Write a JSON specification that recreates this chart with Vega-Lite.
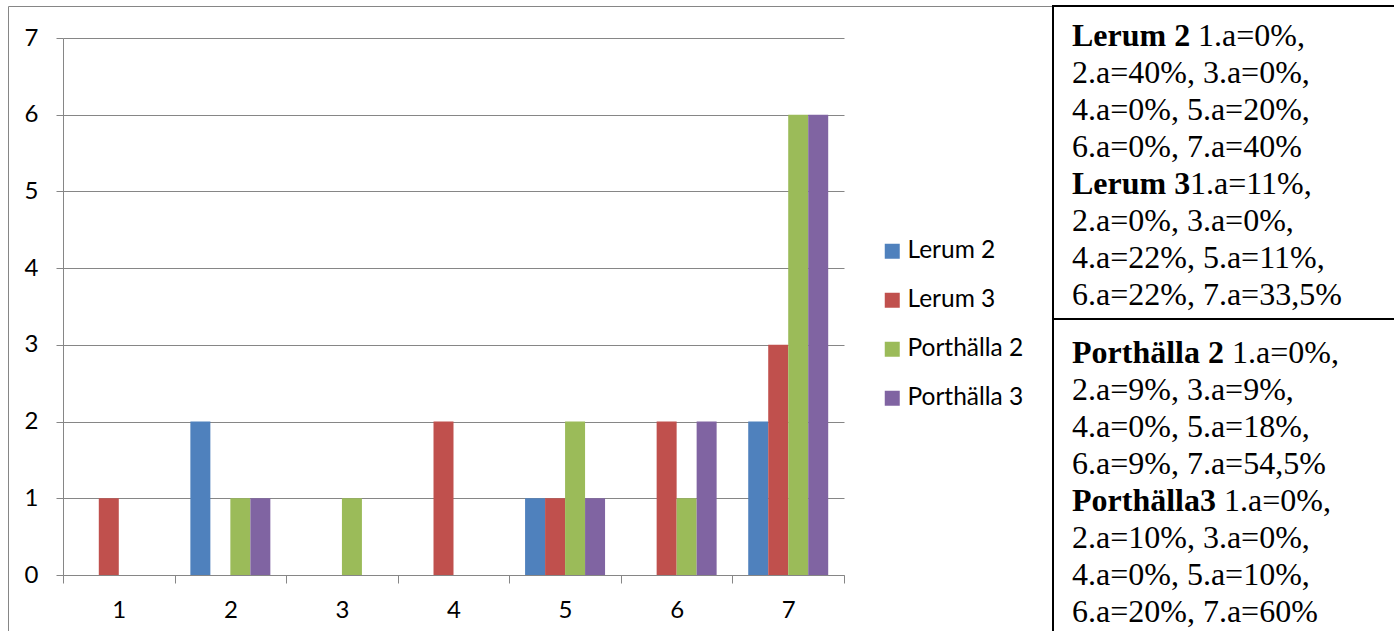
{
  "$schema": "https://vega.github.io/schema/vega-lite/v6.json",
  "background": "white",
  "padding": {"left": 7, "top": 5, "right": 0, "bottom": 0},
  "spacing": 0,
  "bounds": "flush",
  "datasets": {
    "bars": [
      {"group": "1", "series": "Lerum 2", "value": 0},
      {"group": "1", "series": "Lerum 3", "value": 1},
      {"group": "1", "series": "Porthälla 2", "value": 0},
      {"group": "1", "series": "Porthälla 3", "value": 0},
      {"group": "2", "series": "Lerum 2", "value": 2},
      {"group": "2", "series": "Lerum 3", "value": 0},
      {"group": "2", "series": "Porthälla 2", "value": 1},
      {"group": "2", "series": "Porthälla 3", "value": 1},
      {"group": "3", "series": "Lerum 2", "value": 0},
      {"group": "3", "series": "Lerum 3", "value": 0},
      {"group": "3", "series": "Porthälla 2", "value": 1},
      {"group": "3", "series": "Porthälla 3", "value": 0},
      {"group": "4", "series": "Lerum 2", "value": 0},
      {"group": "4", "series": "Lerum 3", "value": 2},
      {"group": "4", "series": "Porthälla 2", "value": 0},
      {"group": "4", "series": "Porthälla 3", "value": 0},
      {"group": "5", "series": "Lerum 2", "value": 1},
      {"group": "5", "series": "Lerum 3", "value": 1},
      {"group": "5", "series": "Porthälla 2", "value": 2},
      {"group": "5", "series": "Porthälla 3", "value": 1},
      {"group": "6", "series": "Lerum 2", "value": 0},
      {"group": "6", "series": "Lerum 3", "value": 2},
      {"group": "6", "series": "Porthälla 2", "value": 1},
      {"group": "6", "series": "Porthälla 3", "value": 2},
      {"group": "7", "series": "Lerum 2", "value": 2},
      {"group": "7", "series": "Lerum 3", "value": 3},
      {"group": "7", "series": "Porthälla 2", "value": 6},
      {"group": "7", "series": "Porthälla 3", "value": 6}
    ],
    "txt": [
      {"box": 1, "line": 1, "kind": "head", "grp": "", "text": "Lerum 2"},
      {"box": 1, "line": 1, "kind": "rest", "grp": "L2", "text": "1.a=0%,"},
      {"box": 1, "line": 2, "kind": "body", "grp": "", "text": "2.a=40%, 3.a=0%,"},
      {"box": 1, "line": 3, "kind": "body", "grp": "", "text": "4.a=0%, 5.a=20%,"},
      {"box": 1, "line": 4, "kind": "body", "grp": "", "text": "6.a=0%, 7.a=40%"},
      {"box": 1, "line": 5, "kind": "head", "grp": "", "text": "Lerum 3"},
      {"box": 1, "line": 5, "kind": "rest", "grp": "L3", "text": "1.a=11%,"},
      {"box": 1, "line": 6, "kind": "body", "grp": "", "text": "2.a=0%, 3.a=0%,"},
      {"box": 1, "line": 7, "kind": "body", "grp": "", "text": "4.a=22%, 5.a=11%,"},
      {"box": 1, "line": 8, "kind": "body", "grp": "", "text": "6.a=22%, 7.a=33,5%"},
      {"box": 2, "line": 1, "kind": "head", "grp": "", "text": "Porthälla 2"},
      {"box": 2, "line": 1, "kind": "rest", "grp": "P2", "text": "1.a=0%,"},
      {"box": 2, "line": 2, "kind": "body", "grp": "", "text": "2.a=9%, 3.a=9%,"},
      {"box": 2, "line": 3, "kind": "body", "grp": "", "text": "4.a=0%, 5.a=18%,"},
      {"box": 2, "line": 4, "kind": "body", "grp": "", "text": "6.a=9%, 7.a=54,5%"},
      {"box": 2, "line": 5, "kind": "head", "grp": "", "text": "Porthälla3"},
      {"box": 2, "line": 5, "kind": "rest", "grp": "P3", "text": "1.a=0%,"},
      {"box": 2, "line": 6, "kind": "body", "grp": "", "text": "2.a=10%, 3.a=0%,"},
      {"box": 2, "line": 7, "kind": "body", "grp": "", "text": "4.a=0%, 5.a=10%,"},
      {"box": 2, "line": 8, "kind": "body", "grp": "", "text": "6.a=20%, 7.a=60%"}
    ]
  },
  "hconcat": [
    {
      "width": 1045,
      "height": 640,
      "view": {"stroke": "#868686", "strokeWidth": 1},
      "data": {"name": "bars"},
      "mark": {"type": "bar"},
      "encoding": {
        "x": {
          "field": "group", "type": "ordinal",
          "scale": {"range": [55, 836], "paddingInner": 0, "paddingOuter": 0},
          "axis": {
            "title": null, "offset": -71, "tickBand": "extent", "labelAngle": 0,
            "domainColor": "#868686", "tickColor": "#868686", "tickSize": 8,
            "labelFont": "Lato", "labelFontSize": 24, "labelColor": "black",
            "labelPadding": 15, "grid": false
          }
        },
        "xOffset": {
          "field": "series", "type": "nominal",
          "scale": {"paddingInner": 0, "paddingOuter": 0.79}
        },
        "y": {
          "field": "value", "type": "quantitative",
          "scale": {"domain": [0, 7], "range": [569, 32], "nice": false},
          "axis": {
            "title": null, "offset": -55, "values": [0, 1, 2, 3, 4, 5, 6, 7],
            "grid": true, "gridColor": "#868686", "gridWidth": 1,
            "domainColor": "#868686", "tickColor": "#868686", "tickSize": 7,
            "labelFont": "Lato", "labelFontSize": 24, "labelColor": "black",
            "labelPadding": 18
          }
        },
        "color": {
          "field": "series", "type": "nominal",
          "scale": {"domain": ["Lerum 2", "Lerum 3", "Porthälla 2", "Porthälla 3"],
                    "range": ["#4F81BD", "#C0504D", "#9BBB59", "#8064A2"]},
          "legend": {
            "title": null, "orient": "none", "legendX": 872, "legendY": 233,
            "symbolType": "square", "symbolSize": 225, "symbolStrokeWidth": 0,
            "labelFont": "Lato", "labelFontSize": 24.5, "labelColor": "black",
            "labelOffset": 3, "rowPadding": 24
          }
        }
      }
    },
    {
      "spacing": 0,
      "bounds": "flush",
      "vconcat": [
        {
          "width": 350,
          "height": 313,
          "view": {"stroke": "black", "strokeWidth": 2},
          "data": {"name": "txt"},
          "transform": [{"filter": "datum.box == 1"}],
          "encoding": {
            "x": {"datum": 0, "type": "quantitative", "scale": {"domain": [0, 1]}, "axis": null},
            "y": {"field": "line", "type": "ordinal", "scale": {"type": "point", "padding": 0.73, "align": 0.55}, "axis": null},
            "text": {"field": "text"}
          },
          "layer": [
            {"transform": [{"filter": "datum.kind == 'body'"}], "mark": {"type": "text", "align": "left", "baseline": "middle", "dx": 19, "font": "Liberation Serif", "fontSize": 32, "color": "black"}},
            {"transform": [{"filter": "datum.kind == 'head'"}], "mark": {"type": "text", "align": "left", "baseline": "middle", "dx": 19, "font": "Liberation Serif", "fontSize": 32, "fontWeight": "bold", "color": "black"}},
            {"transform": [{"filter": "datum.grp == 'L2'"}], "mark": {"type": "text", "align": "left", "baseline": "middle", "dx": 145, "font": "Liberation Serif", "fontSize": 32, "color": "black"}},
            {"transform": [{"filter": "datum.grp == 'L3'"}], "mark": {"type": "text", "align": "left", "baseline": "middle", "dx": 137, "font": "Liberation Serif", "fontSize": 32, "color": "black"}}
          ]
        },
        {
          "width": 350,
          "height": 330,
          "view": {"stroke": "black", "strokeWidth": 2},
          "data": {"name": "txt"},
          "transform": [{"filter": "datum.box == 2"}],
          "encoding": {
            "x": {"datum": 0, "type": "quantitative", "scale": {"domain": [0, 1]}, "axis": null},
            "y": {"field": "line", "type": "ordinal", "scale": {"type": "point", "padding": 0.947, "align": 0.478}, "axis": null},
            "text": {"field": "text"}
          },
          "layer": [
            {"transform": [{"filter": "datum.kind == 'body'"}], "mark": {"type": "text", "align": "left", "baseline": "middle", "dx": 19, "font": "Liberation Serif", "fontSize": 32, "color": "black"}},
            {"transform": [{"filter": "datum.kind == 'head'"}], "mark": {"type": "text", "align": "left", "baseline": "middle", "dx": 19, "font": "Liberation Serif", "fontSize": 32, "fontWeight": "bold", "color": "black"}},
            {"transform": [{"filter": "datum.grp == 'P2'"}], "mark": {"type": "text", "align": "left", "baseline": "middle", "dx": 179, "font": "Liberation Serif", "fontSize": 32, "color": "black"}},
            {"transform": [{"filter": "datum.grp == 'P3'"}], "mark": {"type": "text", "align": "left", "baseline": "middle", "dx": 171, "font": "Liberation Serif", "fontSize": 32, "color": "black"}}
          ]
        }
      ]
    }
  ]
}
